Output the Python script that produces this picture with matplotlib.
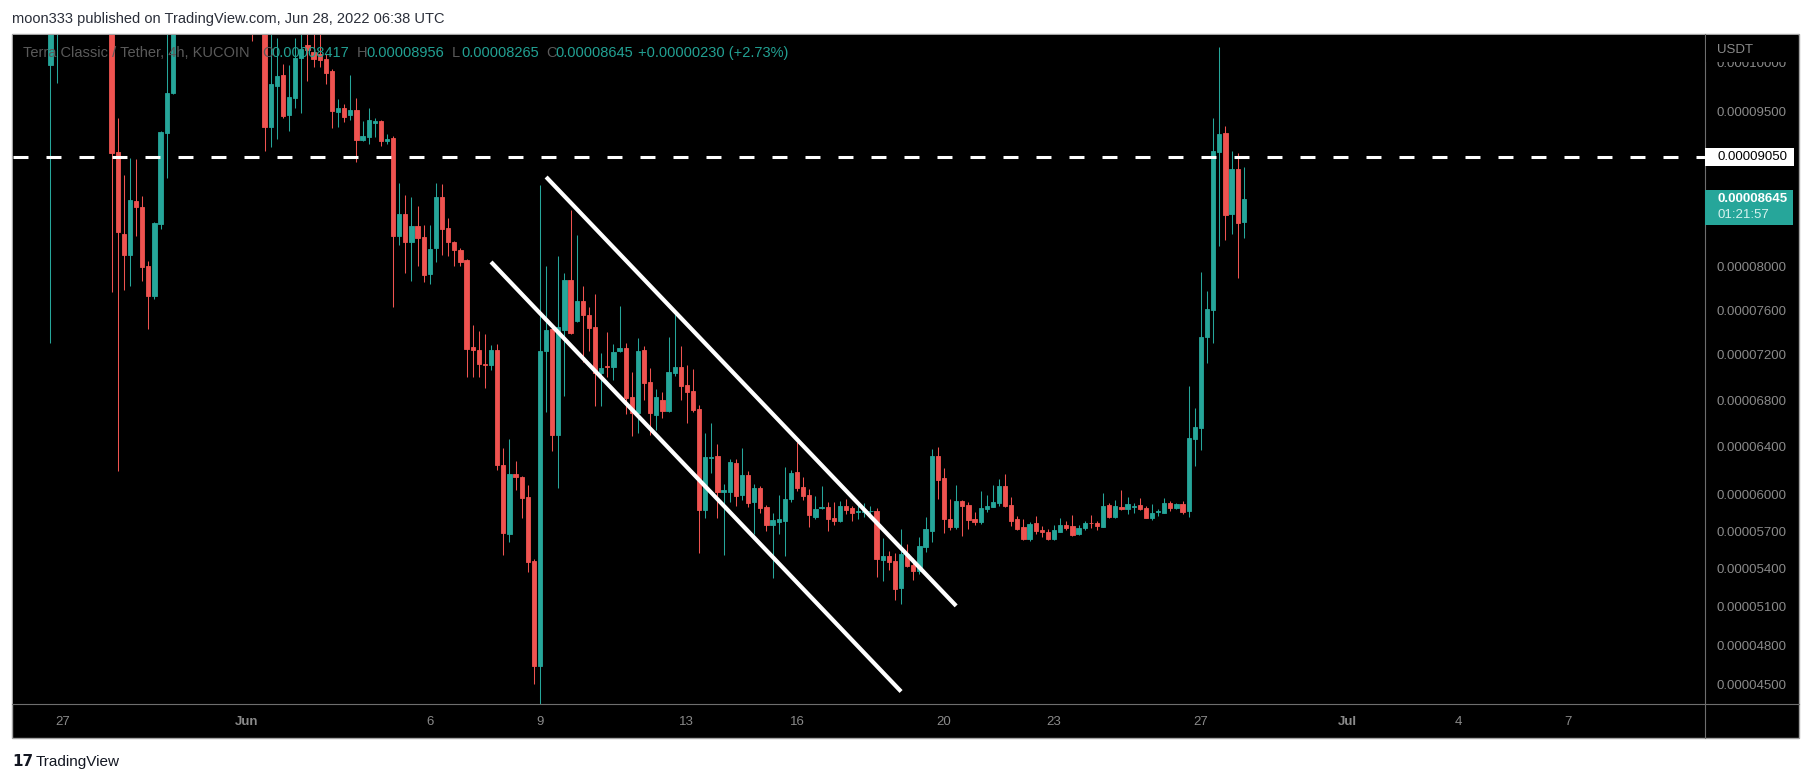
import numpy as np
import pandas as pd
import matplotlib
matplotlib.use("Agg")
import matplotlib.pyplot as plt
import matplotlib.dates as mdates
import matplotlib.transforms as mtransforms
from matplotlib.patches import Rectangle
from matplotlib.lines import Line2D

plt.rcParams['font.family'] = ['Liberation Sans', 'DejaVu Sans']

# LUNC/USDT 4h candles, prices in units of 1e-8 USDT, first bar 2022-05-25 16:00
open_ = [11800, 11900, 11700, 11300, 11400, 10900, 9982, 10550, 10800, 11200,
         11600, 11450, 11300, 11050, 11250, 11000, 10700, 9097, 8307, 8110,
         8622, 8565, 8007, 7733, 8405, 9292, 9691, 10600, 10950, 11150,
         10950, 11100, 11450, 11300, 11000, 11200, 10950, 10800, 10900, 10600,
         10400, 10550, 9346, 9766, 9876, 9469, 9644, 10048, 10187, 10113,
         10092, 10036, 9915, 9495, 9540, 9465, 9521, 9222, 9248, 9391,
         9409, 9205, 9235, 8288, 8495, 8228, 8383, 8280, 7935, 8178,
         8661, 8359, 8228, 8154, 8065, 7272, 7241, 7118, 7107, 7241,
         6247, 5677, 6167, 6149, 5980, 5458, 4642, 7232, 7428, 6496,
         7421, 7873, 7506, 7684, 7557, 7448, 7041, 7100, 7088, 7232,
         7259, 6824, 6686, 7241, 6959, 6672, 6802, 6709, 7041, 7091,
         6933, 6881, 6724, 5873, 6308, 6322, 6024, 6024, 6261, 6000,
         6163, 5941, 6055, 5898, 5750, 5777, 5785, 5964, 6188, 6061,
         5997, 5818, 5892, 5898, 5807, 5785, 5906, 5892, 5857, 5859,
         5862, 5865, 5470, 5500, 5460, 5248, 5516, 5426, 5382, 5574,
         5704, 6322, 6135, 5799, 5736, 5947, 5914, 5799, 5772, 5881,
         5900, 5933, 6071, 5914, 5799, 5731, 5637, 5764, 5713, 5696,
         5637, 5696, 5750, 5742, 5677, 5723, 5769, 5764, 5736, 5914,
         5818, 5895, 5881, 5900, 5914, 5886, 5810, 5853, 5851, 5933,
         5892, 5922, 5865, 6466, 6563, 7361, 7603, 9103, 9286, 8498,
         8933, 8417]
high = [12200, 12300, 11900, 11600, 11500, 11100, 10700, 11000, 11400, 11800,
        12000, 11700, 11500, 11400, 11500, 11200, 10850, 9436, 8874, 9041,
        9031, 8670, 8053, 8422, 9310, 10450, 10900, 11100, 11300, 11400,
        11250, 11600, 11700, 11500, 11350, 11450, 11200, 11100, 11050, 10750,
        10700, 10650, 10400, 10257, 9989, 9979, 10257, 10380, 10350, 10330,
        10320, 10092, 9938, 9627, 9583, 9871, 9641, 9409, 9540, 9434,
        9415, 9279, 9257, 8800, 8682, 8661, 8578, 8393, 8393, 8796,
        8786, 8461, 8236, 8176, 8070, 7467, 7408, 7388, 7286, 7291,
        6386, 6466, 6276, 6155, 6077, 5476, 8779, 8004, 7435, 8097,
        7943, 8536, 8301, 7824, 7625, 7744, 7215, 7403, 7291, 7639,
        7304, 7050, 7346, 7277, 7080, 6896, 6869, 7355, 7594, 7277,
        7109, 7073, 6758, 6517, 6603, 6424, 6085, 6295, 6295, 6387,
        6196, 6088, 6071, 5914, 5846, 5997, 6230, 6205, 6443, 6144,
        6044, 5988, 6071, 5936, 5936, 5950, 5961, 5908, 5947, 5928,
        5906, 5886, 5645, 5540, 5526, 5718, 5596, 5481, 5650, 5818,
        6382, 6401, 6219, 5961, 6079, 5956, 5941, 5853, 6030, 5997,
        6079, 6129, 6171, 5983, 5826, 5799, 5777, 5826, 5744, 5718,
        5750, 5805, 5785, 5832, 5750, 5785, 5832, 5785, 6016, 5933,
        5956, 6038, 5983, 5933, 5975, 5906, 5922, 5881, 5975, 5947,
        5933, 5947, 6924, 6735, 7948, 7776, 9442, 10169, 9353, 9110,
        9093, 8956]
low = [11500, 11600, 11200, 10900, 10700, 10450, 7307, 9797, 10600, 11000,
       11300, 11100, 10900, 10800, 10900, 10500, 7769, 6199, 7785, 7822,
       8291, 7870, 7430, 7703, 8354, 8848, 9680, 10450, 10700, 10800,
       10650, 10900, 11100, 10900, 10700, 10850, 10650, 10550, 10400, 10231,
       10330, 9113, 9153, 9226, 9436, 9312, 9537, 9493, 9817, 9958,
       9958, 9784, 9334, 9347, 9399, 9421, 9002, 9205, 9183, 9248,
       9158, 9183, 7625, 8207, 7943, 7863, 8004, 7855, 7843, 8044,
       8105, 8097, 8004, 8004, 7003, 7003, 7003, 6909, 7060, 6205,
       5510, 5615, 6041, 5808, 5372, 4507, 4340, 6701, 6368, 6051,
       6840, 7380, 7494, 7138, 7233, 6745, 6745, 7003, 6973, 7225,
       6682, 6490, 6518, 6800, 6500, 6543, 6644, 6701, 7012, 6797,
       6601, 6701, 5522, 5810, 6178, 5805, 5506, 5941, 5908, 5956,
       5895, 5677, 5846, 5704, 5327, 5677, 5502, 5941, 6033, 5956,
       5731, 5797, 5879, 5704, 5750, 5775, 5840, 5785, 5799, 5818,
       5818, 5335, 5303, 5388, 5152, 5120, 5410, 5309, 5354, 5535,
       5615, 5964, 5687, 5710, 5715, 5661, 5718, 5750, 5758, 5859,
       5895, 5906, 5900, 5742, 5710, 5629, 5623, 5677, 5656, 5629,
       5630, 5690, 5710, 5661, 5670, 5710, 5723, 5710, 5730, 5810,
       5810, 5875, 5838, 5851, 5875, 5805, 5791, 5826, 5845, 5867,
       5881, 5840, 5818, 6241, 6373, 7129, 7307, 8197, 8251, 8307,
       7898, 8265]
close_ = [11900, 11700, 11300, 11400, 10900, 10600, 10550, 10800, 11200, 11600,
          11450, 11300, 11050, 11250, 11000, 10700, 9093, 8329, 8110, 8632,
          8568, 8000, 7733, 8409, 9299, 9691, 10600, 10950, 11150, 10950,
          11100, 11450, 11300, 11000, 11200, 10950, 10800, 10900, 10600, 10400,
          10550, 9346, 9783, 9866, 9459, 9651, 10048, 10141, 10134, 10041,
          10030, 9893, 9504, 9540, 9452, 9521, 9222, 9261, 9417, 9409,
          9213, 9226, 8288, 8495, 8228, 8383, 8270, 7923, 8166, 8661,
          8350, 8228, 8154, 8044, 7253, 7245, 7118, 7107, 7241, 6247,
          5685, 6167, 6149, 5970, 5448, 4642, 7233, 7421, 6496, 7448,
          7873, 7389, 7684, 7557, 7435, 7041, 7080, 7091, 7225, 7259,
          6819, 6686, 7232, 6953, 6692, 6828, 6709, 7047, 7091, 6927,
          6875, 6715, 5873, 6314, 6314, 6024, 6038, 6272, 5991, 6163,
          5932, 6055, 5892, 5750, 5791, 5799, 5964, 6182, 6057, 5991,
          5832, 5881, 5898, 5802, 5785, 5906, 5873, 5851, 5862, 5865,
          5865, 5476, 5500, 5454, 5238, 5516, 5422, 5382, 5580, 5718,
          6322, 6121, 5799, 5736, 5947, 5906, 5791, 5772, 5886, 5906,
          5939, 6071, 5906, 5785, 5718, 5637, 5758, 5704, 5696, 5637,
          5710, 5750, 5728, 5669, 5723, 5764, 5764, 5744, 5906, 5818,
          5906, 5881, 5922, 5908, 5881, 5810, 5846, 5865, 5933, 5892,
          5922, 5859, 6477, 6572, 7361, 7612, 9110, 9279, 8488, 8933,
          8415, 8645]

price_ticks = [4500, 4800, 5100, 5400, 5700, 6000, 6400, 6800, 7200, 7600, 8000, 9500, 10000]
date_ticks = ['2022-05-27', '2022-06-01', '2022-06-06', '2022-06-09', '2022-06-13', '2022-06-16',
              '2022-06-20', '2022-06-23', '2022-06-27', '2022-07-01', '2022-07-04', '2022-07-07']
date_labels = ['27', 'Jun', '6', '9', '13', '16', '20', '23', '27', 'Jul', '4', '7']

level = 9050          # horizontal dashed level
last_timer = '01:21:57'
channel_upper = (['2022-06-09 04:00', '2022-06-20 08:00'], [8854, 5105])
channel_lower = (['2022-06-07 16:00', '2022-06-18 20:00'], [8044, 4451])

GREEN = '#26a69a'
RED = '#ef5350'
W, H = 1813, 783
u = 1e-8

o = np.array(open_) * u
h = np.array(high) * u
l = np.array(low) * u
c = np.array(close_) * u
times = pd.date_range('2022-05-25 16:00', periods=len(c), freq='4h')
x = mdates.date2num(times.to_pydatetime())

fig = plt.figure(figsize=(W / 100, H / 100), dpi=100, facecolor='white')
ident = mtransforms.IdentityTransform()

# chart panel with border
fig.add_artist(Rectangle((12, H - 738), 1787, 704, transform=ident,
                         facecolor='black', edgecolor='#a3a3a3', lw=1, zorder=-1))

ax = fig.add_axes([13 / W, 1 - 704 / H, (1705 - 13) / W, (704 - 35) / H])
ax.set_facecolor('black')
for s in ax.spines.values():
    s.set_visible(False)

ax.set_yscale('function', functions=(lambda p: np.log10(p + 1e-4),
                                     lambda v: 10 ** v - 1e-4))

cols = np.where(c >= o, GREEN, RED)
ax.vlines(x, l, h, colors=cols, lw=0.75, zorder=2)
ax.bar(x, np.abs(c - o), bottom=np.minimum(o, c), width=0.115,
       color=cols, edgecolor=cols, linewidth=0.6, zorder=3)

ax.axhline(level * u, color='white', lw=2.2, dashes=(4.9, 5.9), zorder=4)
for pts in (channel_upper, channel_lower):
    tx = mdates.date2num(pd.to_datetime(pts[0]).to_pydatetime())
    ax.plot(tx, np.array(pts[1]) * u, color='white', lw=3.0,
            solid_capstyle='butt', zorder=5)

base = mdates.date2num(pd.Timestamp('2022-06-09').to_pydatetime())
ax.set_xlim(base - 86.11 / 6, base + 190.36 / 6)
ax.set_ylim(4358 * u, 10290 * u)

ax.yaxis.tick_right()
ax.set_yticks([p * u for p in price_ticks])
ax.set_yticklabels([f'{p * u:.8f}' for p in price_ticks])
ax.tick_params(axis='y', length=0, pad=8.6, labelsize=9.5, labelcolor='#8a8a8a')
ax.minorticks_off()

ax.set_xticks(mdates.date2num(pd.to_datetime(date_ticks).to_pydatetime()))
ax.set_xticklabels(date_labels)
ax.tick_params(axis='x', length=0, pad=8.5, labelsize=9.5, labelcolor='#8a8a8a')
for t in ax.get_xticklabels():
    if t.get_text() in ('Jun', 'Jul'):
        t.set_fontweight('bold')

# separators of the price and time scales
fig.add_artist(Line2D([1705, 1705], [H - 738, H - 34], transform=ident, color='#6e6e6e', lw=0.8, zorder=2))
fig.add_artist(Line2D([12, 1799], [H - 704, H - 704], transform=ident, color='#6e6e6e', lw=0.8, zorder=2))

# USDT header covers the top label
fig.add_artist(Rectangle((1706, H - 61.5), 92, 26.5, transform=ident,
                         facecolor='black', edgecolor='none', zorder=5))
fig.text(1717, H - 50, 'USDT', transform=ident, va='center', ha='left',
         fontsize=9.5, color='#8a8a8a', zorder=6)

# level label
y_lv = ax.transData.transform((x[0], level * u))[1]
fig.add_artist(Rectangle((1705, y_lv - 9), 89, 18, transform=ident,
                         facecolor='white', edgecolor='none', zorder=5))
fig.text(1717, y_lv, f'{level * u:.8f}', transform=ident, va='center', ha='left',
         fontsize=9.5, color='black', zorder=6)

# last price label
y_c = ax.transData.transform((x[0], c[-1]))[1]
fig.add_artist(Rectangle((1705, y_c - 26), 88, 35, transform=ident,
                         facecolor=GREEN, edgecolor='none', zorder=5))
fig.text(1717, y_c, f'{c[-1]:.8f}', transform=ident, va='center', ha='left',
         fontsize=9.5, color='white', fontweight='bold', zorder=6)
fig.text(1717, y_c - 16, last_timer, transform=ident, va='center', ha='left',
         fontsize=9.5, color='#d6f2ee', zorder=6)

# OHLC legend
legend_y = H - 53
fig.text(23, legend_y, 'Terra Classic / Tether, 4h, KUCOIN', transform=ident,
         va='center', fontsize=10.5, color='#5a5a5a', zorder=6)
chg = c[-1] - c[-2]
parts = [('O', o[-1]), ('H', h[-1]), ('L', l[-1]), ('C', c[-1])]
xs = [262, 357, 452, 546]
for (k, v), xp in zip(parts, xs):
    fig.text(xp, legend_y, k, transform=ident, va='center', fontsize=10.5, color='#5a5a5a', zorder=6)
    fig.text(xp + 9, legend_y, f'{v:.8f}', transform=ident, va='center', fontsize=10.5,
             color='#22a193', zorder=6)
fig.text(638, legend_y, f'+{chg:.8f} (+{chg / c[-2] * 100:.2f}%)', transform=ident,
         va='center', fontsize=10.5, color='#22a193', zorder=6)

# header and footer
fig.text(12, H - 19, 'moon333 published on TradingView.com, Jun 28, 2022 06:38 UTC',
         transform=ident, va='center', fontsize=10.5, color='#2a2e39')
fig.text(12, H - 762, '17', transform=ident, va='center', fontsize=11,
         fontweight='bold', family='DejaVu Sans', color='#131722')
fig.text(36, H - 762, 'TradingView', transform=ident, va='center', fontsize=11,
         color='#131722')

fig.savefig('out.png', dpi=100, facecolor='white')
